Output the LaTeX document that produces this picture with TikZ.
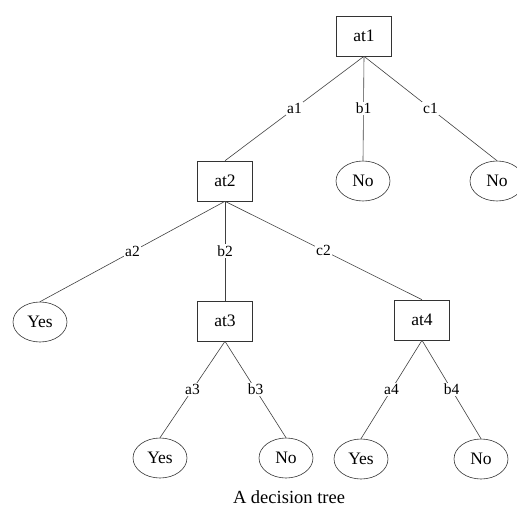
\documentclass[tikz,border=0pt]{standalone}
\usepackage{fontspec}
\setmainfont{Liberation Serif}
\usetikzlibrary{shapes.geometric}
\begin{document}
\begin{tikzpicture}[x=1pt,y=-1pt,
  attr/.style={draw=black!80, line width=0.6pt, rectangle, minimum width=55pt, minimum height=40pt, inner sep=0pt, font=\fontsize{17.5}{20}\selectfont},
  leaf/.style={draw=black!80, line width=0.6pt, ellipse, minimum width=54pt, minimum height=40pt, inner sep=0pt, font=\fontsize{17.5}{20}\selectfont},
  edge/.style={draw=black!75, line width=0.6pt},
  lbl/.style={fill=white, inner sep=1.5pt, font=\fontsize{15.5}{18}\selectfont}]
\useasboundingbox (0,0) rectangle (517,509);
% internal test nodes
\node[attr] (at1) at (364,36) {at1};
\node[attr] (at2) at (225,181) {at2};
\node[attr] (at3) at (225,321) {at3};
\node[attr] (at4) at (422,320) {at4};
% leaves
\node[leaf] (n1) at (363,181) {No};
\node[leaf] (n2) at (497,181) {No};
\node[leaf] (y1) at (40,322) {Yes};
\node[leaf] (y2) at (160,458) {Yes};
\node[leaf] (n3) at (286,458) {No};
\node[leaf] (y3) at (361,459) {Yes};
\node[leaf] (n4) at (481,459) {No};
% branches with their attribute values
\draw[edge] (at1.south) -- node[lbl] {a1} (at2.north);
\draw[edge] (at1.south) -- node[lbl] {b1} (n1.north);
\draw[edge] (at1.south) -- node[lbl] {c1} (n2.north);
\draw[edge] (at2.south) -- node[lbl] {a2} (y1.north);
\draw[edge] (at2.south) -- node[lbl] {b2} (at3.north);
\draw[edge] (at2.south) -- node[lbl] {c2} (at4.north);
\draw[edge] (at3.south) -- node[lbl] {a3} (y2.north);
\draw[edge] (at3.south) -- node[lbl] {b3} (n3.north);
\draw[edge] (at4.south) -- node[lbl] {a4} (y3.north);
\draw[edge] (at4.south) -- node[lbl] {b4} (n4.north);
% caption
\node[font=\fontsize{18.5}{22}\selectfont] (cap) at (289,497) {A decision tree};
\end{tikzpicture}
\end{document}
